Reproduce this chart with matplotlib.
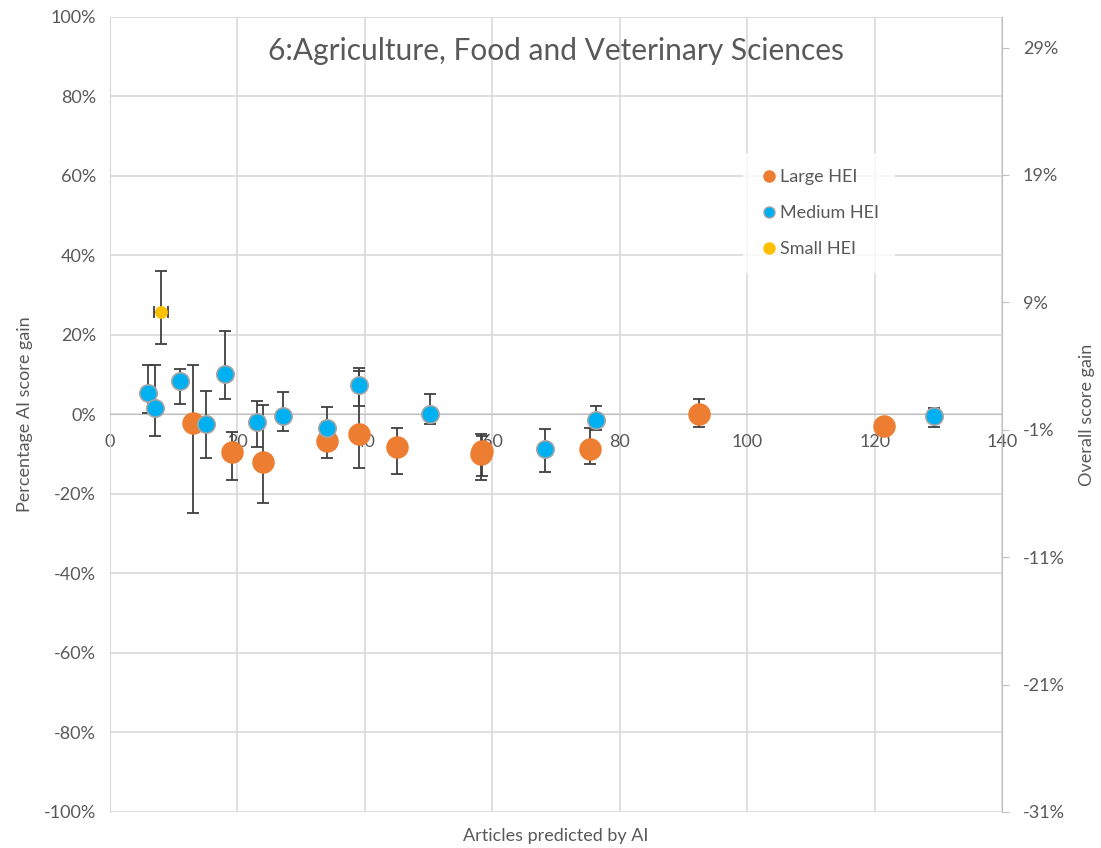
import numpy as np
import matplotlib
matplotlib.use("Agg")
import matplotlib.pyplot as plt
from matplotlib.lines import Line2D
from matplotlib.ticker import FuncFormatter

plt.rcParams["font.family"] = ["Lato", "DejaVu Sans"]

# Large HEI
large_x = [13.0, 19.1, 24.0, 34.1, 39.1, 45.1, 58.2, 58.4, 75.3, 92.4, 121.4]
large_y = [-2.1, -9.4, -12.0, -6.8, -5.0, -8.1, -9.9, -9.3, -8.8, 0.1, -2.8]
large_hi = [12.4, -4.3, 2.4, -2.0, 11.0, -3.5, -4.9, -5.4, -3.5, 3.9, -2.8]
large_lo = [-24.9, -16.5, -22.2, -11.0, -13.4, -15.0, -16.5, -15.6, -12.5, -3.1, -2.8]

# Medium HEI
medium_x = [6.0, 7.1, 11.0, 15.1, 18.0, 23.0, 27.1, 34.1, 39.1, 50.2, 68.3, 76.2, 129.4]
medium_y = [5.3, 1.6, 8.4, -2.4, 10.2, -1.9, -0.4, -3.3, 7.4, 0.1, -8.8, -1.4, -0.4]
medium_hi = [12.4, 12.4, 11.5, 6.0, 21.0, 3.4, 5.6, 1.8, 11.6, 5.1, -3.6, 2.2, 1.7]
medium_lo = [0.4, -5.3, 2.6, -10.9, 3.9, -8.3, -4.2, -6.0, 2.1, -2.5, -14.6, -4.0, -3.1]

# Small HEI
small_x = [8.0]
small_y = [25.9]
small_hi = [36.2]
small_lo = [17.7]
small_xerr = [1.1]

grey = "#595959"

fig = plt.figure(figsize=(11.01, 8.48), dpi=100)
ax = fig.add_axes([0.0999, 0.0425, 0.8102, 0.9375])


def plot_series(x, y, hi, lo, color, size, edge, xerr=None):
    x = np.array(x)
    y = np.array(y) / 100
    hi = np.array(hi) / 100
    lo = np.array(lo) / 100
    yerr = [y - lo, hi - y]
    ax.errorbar(x, y, yerr=yerr, xerr=xerr, fmt="none", ecolor="#404040",
                elinewidth=1.3, capsize=4.5, capthick=1.3, zorder=3)
    ax.plot(x, y, "o", color=color, markersize=size, markeredgecolor=edge,
            markeredgewidth=1.2, linestyle="none", zorder=4)


def pct(v, p):
    s = f"{round(v * 100):.0f}"
    if s == "-0":
        s = "0"
    return s + "%"


plot_series(large_x, large_y, large_hi, large_lo, "#ED7D31", 15, "#ED7D31")
plot_series(medium_x, medium_y, medium_hi, medium_lo, "#00B0F0", 12.5, "#A5A5A5")
plot_series(small_x, small_y, small_hi, small_lo, "#FFC000", 8, "#FFC000", xerr=small_xerr)

ax.set_xlim(0, 140)
ax.set_ylim(-1, 1)
ax.set_xticks(range(0, 141, 20))
ax.set_yticks(np.arange(-1, 1.01, 0.2))
ax.yaxis.set_major_formatter(FuncFormatter(pct))
ax.grid(True, color="#D9D9D9", linewidth=1.2, zorder=0)
ax.set_axisbelow(True)

ax.spines["bottom"].set_position(("data", 0))
ax.spines["bottom"].set_color("#BFBFBF")
ax.spines["left"].set_color("#D9D9D9")
ax.spines["top"].set_visible(False)
ax.spines["right"].set_visible(False)
ax.tick_params(axis="x", length=0, labelsize=13, labelcolor=grey, pad=14)
ax.tick_params(axis="y", length=0, labelsize=13, labelcolor=grey, pad=10)

ax.set_xlabel("Articles predicted by AI", fontsize=13, color=grey)
ax.xaxis.set_label_coords(0.5, -0.02)
ax.set_ylabel("Percentage AI score gain", fontsize=13, color=grey, labelpad=8)

ax.text(70, 0.915, "6:Agriculture, Food and Veterinary Sciences", ha="center",
        va="center", fontsize=21.5, color=grey)

# secondary axis
ax2 = ax.twinx()
ax2.set_ylim(-0.31, 0.314)
ax2.set_yticks(np.arange(-0.31, 0.30, 0.10))
ax2.yaxis.set_major_formatter(FuncFormatter(pct))
ax2.tick_params(axis="y", length=5, color="#BFBFBF", labelsize=13, labelcolor=grey, pad=10)
ax2.spines["right"].set_color("#BFBFBF")
for s in ["top", "left", "bottom"]:
    ax2.spines[s].set_visible(False)
ax2.set_ylabel("Overall score gain", fontsize=13, color=grey, labelpad=10)

handles = [
    Line2D([], [], marker="o", linestyle="none", color="#ED7D31", markersize=8, label="Large HEI"),
    Line2D([], [], marker="o", linestyle="none", color="#00B0F0", markeredgecolor="#A5A5A5",
           markersize=8, label="Medium HEI"),
    Line2D([], [], marker="o", linestyle="none", color="#FFC000", markersize=8, label="Small HEI"),
]
leg = ax2.legend(handles=handles, loc="upper left", bbox_to_anchor=(0.70, 0.84), frameon=True,
                 facecolor="white", edgecolor="white", fontsize=13, labelspacing=1.1,
                 handletextpad=0.1, borderpad=0.9, handlelength=1.0, fancybox=False)
leg.get_frame().set_linewidth(0)
for t in leg.get_texts():
    t.set_color(grey)

fig.savefig("out.png", dpi=100)
